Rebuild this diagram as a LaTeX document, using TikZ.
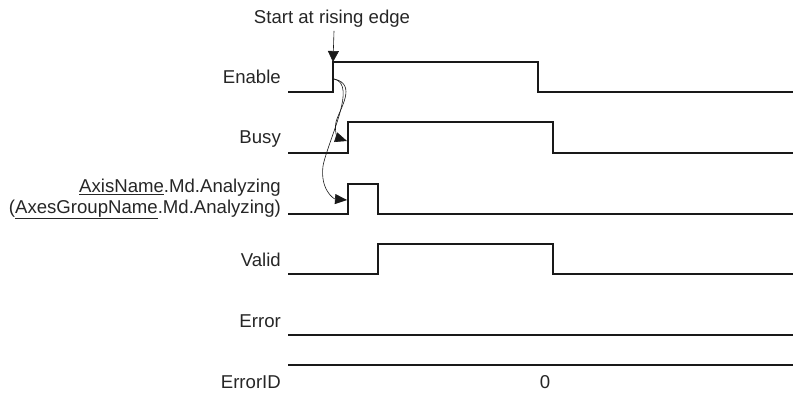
\documentclass[tikz,border=0pt]{standalone}
\usepackage{fontspec}
\setmainfont{Liberation Sans}
\usetikzlibrary{arrows.meta}
\begin{document}
\begin{tikzpicture}[x=1pt,y=-1pt]
			\tikzstyle{sig} = [line width=1.1pt, draw=black!90]
			\tikzstyle{lbl} = [anchor=east, inner sep=0pt, font=\fontsize{18.6}{20.5}\selectfont, text=black!85, align=right]
			\tikzstyle{hint} = [-{Triangle[length=12pt,width=10pt]}, line width=0.6pt, draw=black!90]
			\useasboundingbox (0,0) rectangle (794,394);
			
			\node (enable) [lbl] at (281,77) {Enable};
			\node (busy) [lbl] at (281,139) {Busy};
			\node (analyzing) [lbl] at (281,199) {\underline{AxisName}.Md.Analyzing\\(\underline{AxesGroupName}.Md.Analyzing)};
			\node (valid) [lbl] at (281,260) {Valid};
			\node (error) [lbl] at (281,321) {Error};
			\node (errorid) [lbl] at (281,382) {ErrorID};
			\node (zero) [lbl, anchor=center] at (545,382) {0};
			\node (start) [lbl, anchor=center] at (332,19) {Start at rising edge};
			
			\draw[sig] (288,92) -- (333,92) -- (333,62) -- (538,62) -- (538,92) -- (793,92);
			\draw[sig] (288,153) -- (348,153) -- (348,122) -- (553,122) -- (553,153) -- (793,153);
			\draw[sig] (288,214) -- (348,214) -- (348,184) -- (378,184) -- (378,214) -- (793,214);
			\draw[sig] (288,274) -- (378,274) -- (378,244) -- (553,244) -- (553,274) -- (793,274);
			\draw[sig] (288,335) -- (793,335);
			\draw[sig] (288,365) -- (793,365);
			
			\coordinate (rise) at (334,79);
			\coordinate (busyedge) at (347,141);
			\coordinate (anaedge) at (347,200);
			\draw[hint, -{Triangle[length=11pt,width=11pt]}] (start.south -| rise) ++(0,3) -- (333,62);
			\draw[hint] (rise) .. controls (358,84) and (339,110) .. (336,122) .. controls (334,131) and (338,138) .. (busyedge);
			\draw[hint] (rise) .. controls (358,84) and (328,140) .. (323,166) .. controls (320,190) and (334,199) .. (anaedge);
	\end{tikzpicture}
\end{document}
